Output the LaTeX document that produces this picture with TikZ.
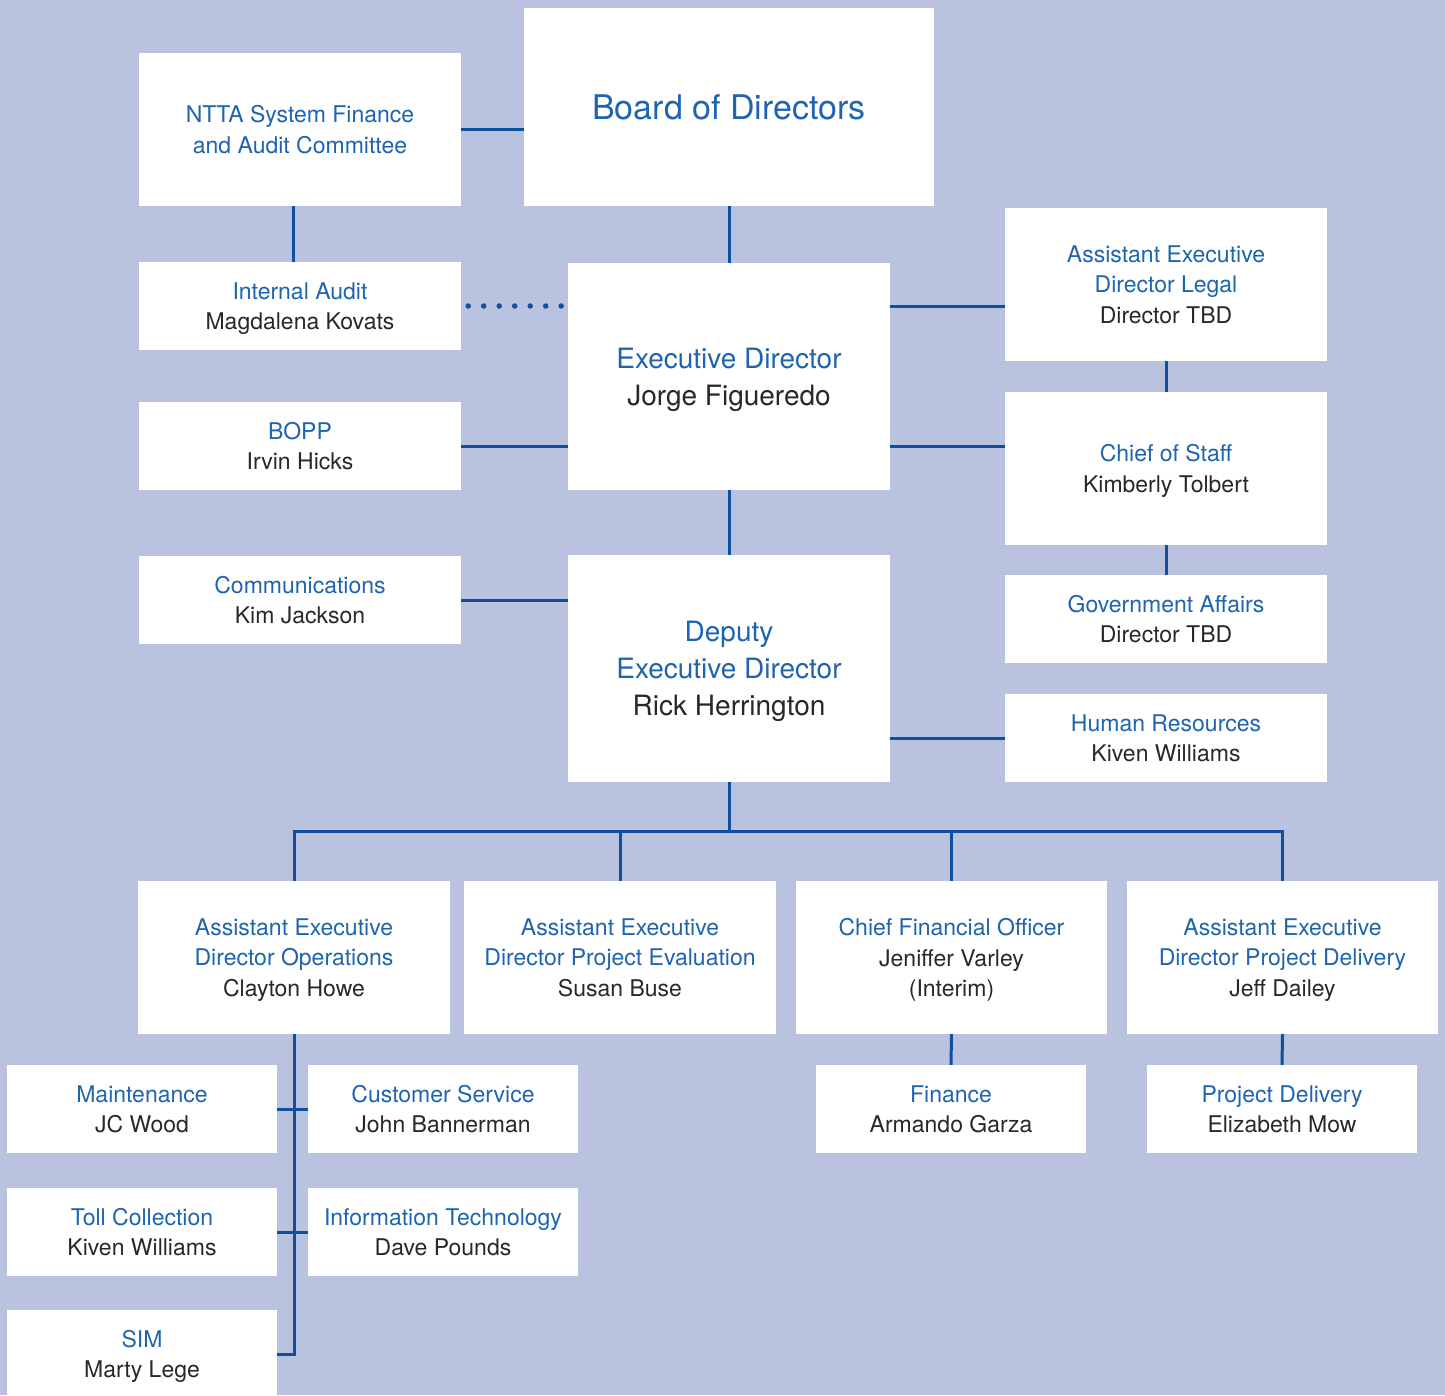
\documentclass[tikz,border=0pt]{standalone}
\usepackage{fontspec}
\setmainfont{TeX Gyre Heros}
\definecolor{bgc}{RGB}{185,194,223}
\definecolor{tblue}{RGB}{30,100,176}
\definecolor{lblue}{RGB}{14,80,158}
\definecolor{ngray}{RGB}{40,40,40}
\newcommand{\nm}[1]{\textcolor{ngray}{#1}}
\tikzset{
  box/.style={fill=white, draw=none, inner sep=0pt, align=center, text=tblue,
    text depth=0pt, font=\fontsize{23}{30.5}\selectfont},
  bigbox/.style={box, font=\fontsize{28}{37}\selectfont, text depth=-4pt},
  wide/.style={minimum width=322pt},
  mid/.style={minimum width=311pt},
  narrow/.style={minimum width=270pt},
  tall/.style={minimum height=153pt},
  short/.style={minimum height=88pt},
  conn/.style={draw=lblue, line width=3pt},
  dotconn/.style={draw=lblue, line width=5.5pt, line cap=round, dash pattern=on 0pt off 15.5pt}
}
\begin{document}
\begin{tikzpicture}[x=1pt,y=-1pt]
\useasboundingbox (0,0) rectangle (1445,1395);
\fill[bgc] (0,0) rectangle (1445,1395);

\node[box, wide, tall] (ntta) at (300,129.5) {NTTA System Finance\\and Audit Committee};
\node[box, minimum width=410pt, minimum height=198pt, font=\fontsize{34}{40}\selectfont] (board) at (729,107) {Board of Directors};
\node[box, wide, short] (audit) at (300,306) {Internal Audit\\\nm{Magdalena Kovats}};
\node[bigbox, wide, minimum height=227pt] (exec) at (729,376.5) {Executive Director\\\nm{Jorge Figueredo}};
\node[box, wide, short] (bopp) at (300,446) {BOPP\\\nm{Irvin Hicks}};
\node[box, wide, short] (comm) at (300,600) {Communications\\\nm{Kim Jackson}};
\node[bigbox, wide, minimum height=227pt] (deputy) at (729,668.5) {Deputy\\Executive Director\\\nm{Rick Herrington}};
\node[box, wide, tall] (legal) at (1166,284.5) {Assistant Executive\\Director Legal\\\nm{Director TBD}};
\node[box, wide, tall] (cos) at (1166,468.5) {Chief of Staff\\\nm{Kimberly Tolbert}};
\node[box, wide, short] (gov) at (1166,619) {Government Affairs\\\nm{Director TBD}};
\node[box, wide, short] (hr) at (1166,738) {Human Resources\\\nm{Kiven Williams}};

\node[box, minimum width=312pt, tall] (ops) at (294,957.5) {Assistant Executive\\Director Operations\\\nm{Clayton Howe}};
\node[box, minimum width=312pt, tall] (pe) at (620,957.5) {Assistant Executive\\Director Project Evaluation\\\nm{Susan Buse}};
\node[box, mid, tall] (cfo) at (951.5,957.5) {Chief Financial Officer\\\nm{Jeniffer Varley}\\\nm{(Interim)}};
\node[box, mid, tall] (pd) at (1282.5,957.5) {Assistant Executive\\Director Project Delivery\\\nm{Jeff Dailey}};

\node[box, narrow, short] (maint) at (142,1109) {Maintenance\\\nm{JC Wood}};
\node[box, narrow, short] (cust) at (443,1109) {Customer Service\\\nm{John Bannerman}};
\node[box, narrow, short] (toll) at (142,1232) {Toll Collection\\\nm{Kiven Williams}};
\node[box, narrow, short] (it) at (443,1232) {Information Technology\\\nm{Dave Pounds}};
\node[box, narrow, short] (sim) at (142,1354) {SIM\\\nm{Marty Lege}};
\node[box, narrow, short] (fin) at (951,1109) {Finance\\\nm{Armando Garza}};
\node[box, narrow, short] (pdel) at (1282,1109) {Project Delivery\\\nm{Elizabeth Mow}};

% connectors
\draw[conn] (ntta.east) -- (ntta.east -| board.west);
\draw[conn] ([xshift=-7pt]ntta.south) -- ([xshift=-7pt]audit.north);
\draw[conn] (board.south) -- (exec.north);
\draw[dotconn] ([xshift=7pt]audit.east) -- ([xshift=-3pt]audit.east -| exec.west);
\draw[conn] (bopp.east) -- (bopp.east -| exec.west);
\draw[conn] (audit.east -| exec.east) -- (audit.east -| legal.west);
\draw[conn] (bopp.east -| exec.east) -- (bopp.east -| cos.west);
\draw[conn] (legal.south) -- (cos.north);
\draw[conn] (cos.south) -- (gov.north);
\draw[conn] (exec.south) -- (deputy.north);
\draw[conn] (comm.east) -- (comm.east -| deputy.west);
\draw[conn] (hr.west) -- (hr.west -| deputy.east);

\coordinate (bus) at (729,831);
\draw[conn] (deputy.south) -- (bus);
\draw[conn] (ops.north) |- (bus) -| (pd.north);
\draw[conn] (pe.north) -- (pe.north |- bus);
\draw[conn] (cfo.north) -- (cfo.north |- bus);

\draw[conn] (ops.south) |- (sim.east);
\draw[conn] (maint.east) -- (cust.west);
\draw[conn] (toll.east) -- (it.west);
\draw[conn] (cfo.south) -- (fin.north);
\draw[conn] (pd.south) -- (pdel.north);
\end{tikzpicture}
\end{document}
